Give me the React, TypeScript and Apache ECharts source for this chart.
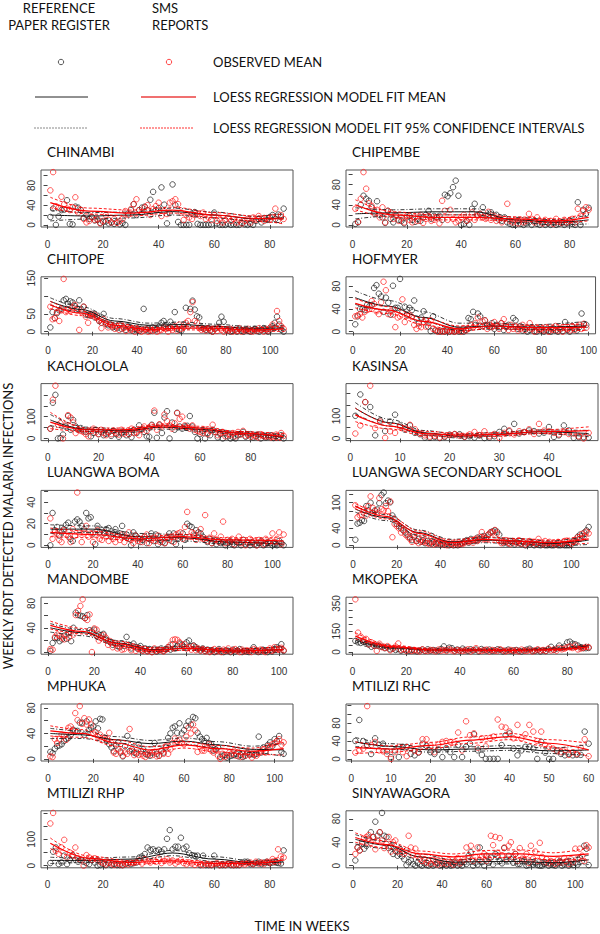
import React, { useEffect, useRef } from "react";
import * as echarts from "echarts";

// ---------------- DATA ----------------
const panelNames = [
  "CHINAMBI", "CHIPEMBE", "CHITOPE", "HOFMYER", "KACHOLOLA", "KASINSA", "LUANGWA BOMA",
  "LUANGWA SECONDARY SCHOOL", "MANDOMBE", "MKOPEKA", "MPHUKA", "MTILIZI RHC", "MTILIZI RHP", "SINYAWAGORA",
];

// weekly values, week 1..N (black = reference paper register, red = SMS reports)
const chinambiPaper = [16,33,0,17,30,31,50,2,1,37, 35,30,14,20,12,16,9,10,4,6, 7,3,5,2,6,1,4,0,23,30, 42,20,30,35,37,30,51,67,30,34, 76,41,3,24,82,40,6,0,0,0, 0,23,26,2,0,0,0,0,1,25, 3,0,0,0,2,0,1,0,0,4, 1,0,2,0,8,12,5,14,10,16, 20,12,21,16,33];
const chinambiSms = [70,107,38,35,57,42,33,30,36,56, 25,30,12,5,8,15,10,12,3,8, 20,10,5,12,4,8,12,28,20,32, 42,52,30,25,36,40,20,32,38,45, 18,28,22,45,48,52,42,25,10,20, 15,12,20,22,18,25,12,15,10,20, 8,12,5,10,15,8,12,5,10,3, 8,12,5,15,10,18,12,8,14,10, 16,33,10,20,12];
const chinambiKnots = [1, 15, 30, 45, 60, 75, 85];
const chinambiPaperFit = [20, 18, 20, 27, 20, 12, 14];
const chinambiPaperLo = [8, 12, 14, 20, 14, 7, 4];
const chinambiPaperHi = [30, 25, 26, 34, 26, 17, 24];
const chinambiSmsFit = [45, 28, 24, 30, 20, 13, 12];
const chinambiSmsLo = [35, 22, 18, 24, 15, 8, 2];
const chinambiSmsHi = [56, 34, 30, 36, 25, 18, 22];

const chipembePaper = [2,5,40,58,52,48,35,25,47,20, 15,4,28,12,5,18,10,8,3,15, 18,10,6,12,8,15,20,28,12,18, 15,18,10,60,57,63,75,88,58,0, 2,8,0,32,42,20,22,35,18,20, 25,15,20,10,8,15,5,2,0,0, 8,2,0,3,5,0,8,2,0,5, 0,3,0,5,0,2,5,0,3,8, 2,0,45,0,30,22,34];
const chipembeSms = [32,6,52,105,72,43,38,22,30,15, 35,5,28,25,12,20,8,15,5,18, 10,5,15,8,20,4,12,18,8,10, 15,3,48,28,10,30,12,5,8,15, 20,8,12,25,10,18,22,15,12,26, 10,18,8,15,5,12,42,8,5,10, 3,10,5,8,22,12,5,15,8,3, 10,5,8,2,12,6,4,10,5,8, 12,5,32,18,28,35,30];
const chipembeKnots = [1, 15, 30, 45, 60, 75, 87];
const chipembePaperFit = [22, 24, 26, 26, 10, 5, 10];
const chipembePaperLo = [12, 18, 20, 20, 5, 0, 2];
const chipembePaperHi = [34, 30, 32, 32, 15, 10, 20];
const chipembeSmsFit = [40, 20, 15, 15, 12, 8, 15];
const chipembeSmsLo = [30, 15, 10, 10, 8, 4, 8];
const chipembeSmsHi = [50, 26, 20, 20, 16, 12, 24];

const chitopePaper = [12,55,38,52,60,65,88,92,78,85, 82,72,65,88,62,70,48,47,45,50, 40,45,30,25,50,22,18,20,12,15, 10,20,8,12,5,15,10,3,8,5, 2,8,64,5,10,2,12,5,8,15, 25,30,15,10,28,18,55,8,5,3, 20,67,15,64,87,62,43,40,12,8, 5,10,3,0,8,12,25,42,28,5, 3,0,2,5,0,8,3,0,5,2, 0,4,8,2,0,5,10,3,0,6, 15,25,42,20,5,0];
const chitopeSms = [70,35,38,55,30,60,148,55,62,58, 68,75,60,5,55,70,42,25,50,45, 48,40,30,10,35,25,12,20,15,8, 15,5,20,10,2,12,5,8,0,10, 5,0,3,8,0,5,2,10,0,3, 5,12,8,0,10,5,15,3,20,8, 12,25,30,55,83,30,25,10,5,8, 3,10,5,0,8,2,12,5,0,6, 3,8,0,5,2,10,0,5,3,8, 2,0,6,3,10,5,0,8,3,12, 20,10,58,30,15,8];
const chitopeKnots = [1, 15, 30, 45, 60, 75, 90, 106];
const chitopePaperFit = [85, 62, 30, 18, 20, 15, 10, 10];
const chitopePaperLo = [75, 55, 25, 13, 15, 10, 6, 3];
const chitopePaperHi = [95, 70, 37, 24, 27, 21, 15, 17];
const chitopeSmsFit = [75, 52, 18, 6, 10, 10, 5, 8];
const chitopeSmsLo = [65, 45, 12, 2, 5, 5, 1, 1];
const chitopeSmsHi = [85, 58, 24, 11, 15, 15, 10, 16];

const hofmyerPaper = [13,27,40,40,38,47,45,47,77,82, 67,62,35,60,51,30,81,42,42,93, 35,44,30,42,38,55,23,15,25,36, 20,9,1,27,2,1,0,1,0,2, 0,1,0,2,0,1,0,3,24,22, 35,12,32,27,10,20,12,8,15,5, 12,8,15,3,10,12,8,24,20,5, 10,2,5,0,3,8,1,0,5,2, 0,3,1,0,6,2,0,4,1,17, 3,0,10,5,2,8,32,13,12];
const hofmyerSms = [27,29,31,25,35,38,40,54,49,36, 31,52,88,73,31,36,30,8,25,27, 57,17,28,30,26,12,5,10,8,17, 9,15,20,5,3,0,2,0,1,3, 0,2,0,1,3,0,6,2,5,12, 8,15,25,10,18,20,5,12,8,17, 10,5,15,22,8,3,12,5,10,2, 5,12,3,8,15,5,0,8,3,5, 2,8,0,5,3,10,2,6,0,8, 5,2,10,3,8,12,5,14,7];
const hofmyerKnots = [1, 15, 30, 45, 60, 75, 99];
const hofmyerPaperFit = [60, 45, 25, 8, 10, 8, 10];
const hofmyerPaperLo = [48, 38, 18, 2, 5, 4, 3];
const hofmyerPaperHi = [72, 55, 35, 15, 15, 12, 18];
const hofmyerSmsFit = [50, 38, 18, 5, 10, 7, 8];
const hofmyerSmsLo = [42, 32, 12, 1, 6, 3, 2];
const hofmyerSmsHi = [58, 44, 24, 10, 14, 11, 14];

const kachololaPaper = [45,164,200,0,2,18,55,103,40,85, 55,40,48,37,30,35,10,25,40,20, 30,15,22,28,12,35,20,8,25,30, 15,20,6,40,25,60,42,30,10,8, 63,118,3,63,25,96,125,0,73,40, 118,55,45,55,58,103,55,30,0,20, 35,0,25,15,40,30,5,20,0,25, 10,0,5,0,15,20,30,8,15,20, 5,10,18,0,12,5,8,15,2,10, 5,15,0];
const kachololaSms = [45,178,242,63,70,0,60,107,96,73, 25,40,35,30,20,10,35,45,28,20, 40,25,15,30,20,35,25,18,40,22, 30,20,45,25,30,15,40,55,35,50, 60,128,40,65,55,110,80,60,45,70, 116,90,100,60,50,45,60,40,35,30, 25,40,20,35,63,30,15,25,30,10, 20,15,25,10,30,18,35,12,20,8, 15,10,5,20,12,8,15,5,10,18, 8,25,12];
const kachololaKnots = [1, 15, 30, 45, 60, 75, 93];
const kachololaPaperFit = [85, 42, 35, 52, 42, 25, 5];
const kachololaPaperLo = [60, 32, 27, 43, 34, 18, -5];
const kachololaPaperHi = [110, 52, 43, 61, 50, 32, 15];
const kachololaSmsFit = [75, 40, 40, 58, 48, 25, 8];
const kachololaSmsLo = [45, 32, 33, 50, 40, 18, -15];
const kachololaSmsHi = [120, 48, 48, 66, 56, 32, 22];

const kasinsaPaper = [101,196,162,140,14,80,33,75,106,58, 39,58,25,19,4,3,7,2,7,17, 19,19,7,10,4,14,2,4,10,29, 43,32,65,22,29,36,33,22,26,51, 7,14,58,36,3,6,6,4];
const kasinsaSms = [22,58,162,235,46,75,3,32,25,51, 45,61,41,22,14,8,12,5,10,15, 20,12,8,18,29,15,32,10,20,3, 25,36,18,32,28,41,20,65,35,32, 25,18,29,20,22,10,0,25];
const kasinsaKnots = [1, 8, 15, 22, 30, 38, 48];
const kasinsaPaperFit = [135, 70, 25, 10, 20, 30, 22];
const kasinsaPaperLo = [110, 55, 15, 2, 12, 22, 8];
const kasinsaPaperHi = [160, 85, 35, 18, 28, 38, 36];
const kasinsaSmsFit = [105, 55, 22, 15, 18, 30, 35];
const kasinsaSmsLo = [75, 42, 12, 7, 10, 22, 18];
const kasinsaSmsHi = [135, 68, 32, 23, 26, 38, 52];

const bomaPaper = [0,30,14,17,9,12,15,19,21,6, 4,22,24,22,18,15,30,25,26,11, 1,18,12,14,11,15,16,8,11,15, 10,11,18,8,10,6,0,12,9,7, 3,5,8,2,6,11,4,10,1,5, 3,2,7,11,4,11,1,6,8,11, 5,20,18,17,9,14,12,11,8,5, 3,6,2,5,1,4,2,3,0,2, 4,1,0,3,2,0,5,1,2,0, 3,1,0,2,4,0,1,3,2,0, 1,0,4,2,0];
const bomaSms = [25,6,12,11,5,3,14,10,8,3, 15,9,49,11,3,11,18,8,11,3, 10,14,6,5,12,8,4,10,6,3, 8,5,10,3,7,12,5,2,9,4, 6,3,8,10,2,5,7,4,9,3, 6,2,8,5,8,3,10,11,12,6, 17,31,8,12,11,5,9,15,6,28, 4,7,2,11,5,3,8,22,2,5, 3,6,1,4,8,2,5,0,3,6, 2,4,0,5,3,1,6,2,4,11, 3,6,12,1,10];
const bomaKnots = [1, 20, 40, 60, 80, 105];
const bomaPaperFit = [15, 15, 8, 7, 3, 1];
const bomaPaperLo = [11, 12, 5, 4, 1, -1];
const bomaPaperHi = [19, 18, 11, 10, 5, 3];
const bomaSmsFit = [12, 10, 6, 8, 5, 4];
const bomaSmsLo = [8, 7, 4, 6, 3, 1];
const bomaSmsHi = [16, 13, 8, 10, 7, 7];

const secondaryPaper = [13,51,53,59,57,92,82,100,75,82, 84,99,118,124,99,105,101,70,62,50, 45,40,35,30,25,18,12,20,10,15, 8,12,5,10,6,4,8,3,6,2, 4,1,3,0,2,0,1,0,2,5, 8,12,6,15,10,12,18,15,20,22, 18,25,30,33,35,32,25,10,5,8, 4,10,6,2,8,5,3,7,0,4, 2,5,0,3,1,0,2,0,0,1, 0,0,2,0,0,1,0,0,0,2, 10,8,20,25,22,30,35,43];
const secondarySms = [94,66,71,71,84,70,92,115,88,80, 75,111,85,82,92,80,103,19,50,45, 40,30,35,25,20,15,8,25,10,5, 12,8,10,5,3,8,2,6,4,10, 2,5,0,8,3,1,6,2,4,3, 5,10,8,12,6,15,10,20,31,18, 15,25,31,30,36,28,10,5,8,12, 6,3,10,8,5,12,4,8,2,6, 10,5,8,3,15,6,2,10,4,8, 3,6,2,8,5,3,10,11,6,4, 8,12,19,15,27,22,32,28];
const secondaryKnots = [1, 15, 30, 45, 60, 75, 90, 108];
const secondaryPaperFit = [85, 65, 30, 8, 12, 10, 4, 12];
const secondaryPaperLo = [78, 58, 24, 2, 6, 4, -2, 2];
const secondaryPaperHi = [92, 72, 36, 14, 18, 16, 10, 22];
const secondarySmsFit = [92, 68, 28, 6, 14, 10, 6, 15];
const secondarySmsLo = [86, 62, 22, 0, 8, 4, 0, 5];
const secondarySmsHi = [98, 74, 34, 12, 20, 16, 12, 25];

const mandombePaper = [2,15,23,23,18,21,27,22,32,18, 40,65,61,60,59,56,61,36,34,37, 27,29,28,30,21,19,16,12,15,10, 8,14,10,25,12,6,14,8,5,10, 3,6,2,5,0,4,1,3,6,2, 5,8,4,13,6,10,14,12,8,16, 19,10,11,8,5,3,6,2,4,1, 3,0,2,5,1,0,3,2,0,4, 1,3,5,0,2,1,0,3,8,2, 0,1,4,2,0,3,1,5,8,6, 13,2];
const mandombeSms = [5,4,25,29,27,24,21,28,24,32, 29,61,68,76,87,56,53,62,0,39, 37,19,23,28,24,12,18,8,14,6, 10,4,5,12,8,3,9,2,6,4, 2,5,1,3,0,6,2,4,3,1, 4,8,12,20,21,20,16,10,13,6, 8,4,10,3,6,2,5,1,3,0, 2,5,1,3,0,4,2,6,1,3, 5,2,0,4,1,3,2,0,5,3, 1,4,2,0,3,6,2,8,5,4, 7,3];
const mandombeKnots = [1, 15, 30, 45, 60, 80, 102];
const mandombePaperFit = [40, 32, 15, 4, 6, 2, 4];
const mandombePaperLo = [33, 27, 11, 1, 3, 0, -1];
const mandombePaperHi = [47, 37, 19, 8, 9, 5, 9];
const mandombeSmsFit = [44, 34, 14, 3, 6, 2, 4];
const mandombeSmsLo = [38, 30, 10, 0, 3, 0, 0];
const mandombeSmsHi = [51, 39, 18, 7, 9, 5, 9];

const mkopekaPaper = [80,70,66,75,60,55,38,45,47,42, 38,28,35,20,25,15,22,10,18,12, 8,15,10,5,12,18,8,20,10,15, 12,8,22,41,15,32,28,10,18,12, 25,15,8,20,12,18,5,22,15,10, 18,8,12,20,15,5,10,18,8,12, 15,10,5,12,18,24,10,8,15,5, 12,8,20,38,15,25,47,30,40,70, 75,60,56,47,35,28,28,30];
const mkopekaSms = [380,140,112,85,95,56,70,47,9,60, 35,30,43,13,25,40,62,15,22,10, 18,8,15,12,5,20,10,8,15,12, 5,18,10,15,8,20,12,5,15,10, 8,12,20,5,15,28,10,8,12,18, 5,15,10,8,20,12,5,10,15,8, 12,5,18,10,8,15,5,12,20,10, 15,8,25,12,18,10,30,20,25,35, 40,30,47,19,25,30,38,35];
const mkopekaKnots = [1, 15, 30, 45, 60, 75, 88];
const mkopekaPaperFit = [85, 30, 15, 15, 13, 22, 45];
const mkopekaPaperLo = [72, 24, 10, 10, 8, 16, 32];
const mkopekaPaperHi = [100, 36, 20, 20, 18, 28, 58];
const mkopekaSmsFit = [115, 40, 15, 14, 12, 18, 38];
const mkopekaSmsLo = [95, 32, 9, 8, 6, 12, 25];
const mkopekaSmsHi = [140, 48, 21, 20, 18, 24, 51];

const mphukaPaper = [11,9,16,20,21,23,28,31,33,38, 46,44,44,57,57,38,59,45,49,51, 59,48,63,62,33,28,23,18,12,21, 26,10,4,20,36,12,15,10,8,23, 12,15,8,6,5,10,25,8,5,13, 10,18,33,40,49,51,41,56,40,45, 52,59,54,66,64,41,35,31,28,33, 25,23,13,15,18,3,5,6,2,4, 5,6,8,4,6,3,5,9,7,8, 6,8,35,10,18,12,22,26,20,31, 28,36,11,8];
const mphukaSms = [4,3,31,25,31,38,37,30,49,51, 45,72,61,83,55,64,54,62,54,40, 42,35,38,30,33,32,41,25,10,8, 15,12,5,10,8,47,12,6,10,6, 8,5,3,8,10,6,11,4,5,12, 8,20,8,15,25,32,28,30,25,23, 35,49,40,54,45,11,20,13,13,18, 23,13,10,14,5,0,8,3,6,10, 8,13,5,11,3,8,5,11,6,2, 8,5,9,12,15,10,20,18,23,25, 28,31,22,26];
const mphukaKnots = [1, 15, 30, 45, 60, 75, 90, 104];
const mphukaPaperFit = [40, 38, 30, 24, 28, 22, 15, 14];
const mphukaPaperLo = [32, 32, 25, 19, 23, 17, 10, 4];
const mphukaPaperHi = [48, 44, 35, 29, 33, 27, 20, 24];
const mphukaSmsFit = [44, 40, 25, 14, 22, 16, 12, 16];
const mphukaSmsLo = [36, 34, 20, 9, 17, 11, 7, 6];
const mphukaSmsHi = [52, 46, 30, 19, 27, 21, 17, 26];

const rhcPaper = [40,87,40,31,11,46,32,34,17,4, 19,4,27,27,11,8,14,34,29,15, 11,21,4,24,15,4,31,4,27,34, 55,19,9,0,0,0,0,31,53,57, 23,8,19,27,27,23,0,38,14,0, 0,19,11,8,11,8,9,9,61,34];
const rhcSms = [14,19,23,118,31,38,19,17,11,0, 15,27,15,6,24,18,15,44,44,30, 15,32,38,40,38,37,59,19,84,53, 57,25,46,28,46,50,88,72,70,61, 46,76,46,55,76,61,40,61,31,27, 23,17,15,20,9,15,11,25,44,6];
const rhcKnots = [1, 10, 20, 30, 40, 50, 60];
const rhcPaperFit = [38, 28, 20, 22, 24, 18, 20];
const rhcPaperLo = [28, 22, 15, 17, 19, 12, 8];
const rhcPaperHi = [48, 34, 25, 27, 30, 24, 32];
const rhcSmsFit = [25, 22, 30, 42, 50, 35, 20];
const rhcSmsLo = [12, 15, 23, 35, 43, 27, 5];
const rhcSmsHi = [38, 29, 37, 49, 57, 43, 35];

const rhpPaper = [10,53,69,6,12,38,6,23,40,22, 15,22,15,10,6,22,12,0,2,6, 2,10,2,6,2,2,2,6,10,6, 10,12,31,35,44,69,60,62,56,60, 53,62,102,135,62,72,72,106,65,72, 47,40,38,38,2,38,2,2,2,38, 6,2,2,2,6,2,2,2,2,12, 15,15,6,6,10,15,6,12,15,10, 12,15,10,8,58];
const rhpSms = [160,200,56,45,69,98,31,50,38,69, 28,22,0,40,31,22,28,22,15,10, 5,12,8,3,10,6,2,8,5,12, 10,15,20,8,25,18,12,20,15,28, 10,18,25,12,20,8,15,22,10,5, 12,8,3,10,6,2,8,5,3,6, 10,2,6,3,8,5,2,6,4,8, 5,10,12,6,15,8,12,6,15,10, 25,18,62,35,31];
const rhpKnots = [1, 15, 30, 45, 60, 75, 85];
const rhpPaperFit = [20, 20, 25, 48, 25, 10, 14];
const rhpPaperLo = [8, 12, 17, 38, 16, 3, 2];
const rhpPaperHi = [32, 28, 33, 58, 34, 17, 26];
const rhpSmsFit = [85, 28, 12, 18, 8, 10, 22];
const rhpSmsLo = [65, 20, 5, 11, 2, 4, 8];
const rhpSmsHi = [105, 36, 19, 25, 14, 16, 36];

const sinyaPaper = [9,31,26,37,29,34,46,57,49,75, 51,57,90,51,49,30,33,20,25,17, 20,16,11,1,6,9,3,0,5,2, 0,4,1,0,3,0,2,5,0,1, 3,0,2,0,1,4,0,2,0,6, 3,17,23,0,5,2,31,6,0,17, 5,14,2,20,17,8,4,30,10,17, 11,5,20,3,3,8,9,0,1,6, 2,4,1,0,0,3,5,0,2,1, 0,4,8,0,2,6,0,3,1,5, 2,13,8,34,29,1];
const sinyaSms = [20,31,26,40,46,49,52,39,49,28, 43,57,43,30,37,49,24,40,43,24, 29,23,20,26,51,31,18,29,17,12, 8,11,5,8,3,10,6,2,12,4, 7,3,9,5,2,8,13,4,6,10, 31,12,34,8,15,31,10,16,20,8, 12,51,35,49,22,47,18,31,12,34, 40,15,20,8,30,12,11,20,5,34, 12,24,8,39,15,6,11,4,8,6, 3,10,6,5,13,8,3,11,6,29, 12,29,17,8,35,31];
const sinyaKnots = [1, 15, 30, 45, 60, 75, 90, 106];
const sinyaPaperFit = [45, 35, 15, 6, 7, 7, 5, 10];
const sinyaPaperLo = [37, 29, 10, 2, 3, 3, 1, 2];
const sinyaPaperHi = [53, 41, 20, 10, 11, 11, 9, 18];
const sinyaSmsFit = [48, 36, 20, 15, 20, 20, 16, 20];
const sinyaSmsLo = [40, 30, 15, 10, 14, 14, 10, 10];
const sinyaSmsHi = [56, 42, 25, 20, 26, 27, 22, 30];

// axis tick values and printed tick labels
const xTicks80 = [0, 20, 40, 60, 80];
const xTicks100 = [0, 20, 40, 60, 80, 100];
const xTicks40 = [0, 10, 20, 30, 40];
const xTicks60 = [0, 10, 20, 30, 40, 50, 60];
const yTicksList = [
  [0, 20, 40, 60, 80, 100], [0, 20, 40, 60, 80, 100], [0, 50, 100, 150], [0, 20, 40, 60, 80],
  [0, 50, 100, 150, 200], [0, 50, 100, 150, 200], [0, 10, 20, 30, 40, 50], [0, 20, 40, 60, 80, 100, 120],
  [0, 20, 40, 60, 80], [0, 50, 100, 150, 200, 250, 300, 350], [0, 20, 40, 60, 80], [0, 20, 40, 60, 80, 100, 120],
  [0, 50, 100, 150, 200], [0, 20, 40, 60, 80],
];
const yLabelsList = [
  [0, 40, 80], [0, 40, 80], [0, 50, 150], [0, 40, 80],
  [0, 100], [0, 100], [0, 20, 40], [0, 40, 100],
  [0, 40, 80], [0, 150, 350], [0, 40, 80], [0, 40, 80],
  [0, 100], [0, 40, 80],
];

const legendHeaders = ["REFERENCE", "PAPER REGISTER", "SMS", "REPORTS"];
const legendLabels = ["OBSERVED MEAN", "LOESS REGRESSION MODEL FIT MEAN", "LOESS REGRESSION MODEL FIT 95% CONFIDENCE INTERVALS"];
const yTitle = "WEEKLY RDT DETECTED MALARIA INFECTIONS";
const xTitle = "TIME IN WEEKS";

// ---------------- PANEL TABLE ----------------
const panels = [
  { paper: chinambiPaper, sms: chinambiSms, knots: chinambiKnots, pf: chinambiPaperFit, pl: chinambiPaperLo, ph: chinambiPaperHi, sf: chinambiSmsFit, sl: chinambiSmsLo, sh: chinambiSmsHi, xt: xTicks80 },
  { paper: chipembePaper, sms: chipembeSms, knots: chipembeKnots, pf: chipembePaperFit, pl: chipembePaperLo, ph: chipembePaperHi, sf: chipembeSmsFit, sl: chipembeSmsLo, sh: chipembeSmsHi, xt: xTicks80 },
  { paper: chitopePaper, sms: chitopeSms, knots: chitopeKnots, pf: chitopePaperFit, pl: chitopePaperLo, ph: chitopePaperHi, sf: chitopeSmsFit, sl: chitopeSmsLo, sh: chitopeSmsHi, xt: xTicks100 },
  { paper: hofmyerPaper, sms: hofmyerSms, knots: hofmyerKnots, pf: hofmyerPaperFit, pl: hofmyerPaperLo, ph: hofmyerPaperHi, sf: hofmyerSmsFit, sl: hofmyerSmsLo, sh: hofmyerSmsHi, xt: xTicks100 },
  { paper: kachololaPaper, sms: kachololaSms, knots: kachololaKnots, pf: kachololaPaperFit, pl: kachololaPaperLo, ph: kachololaPaperHi, sf: kachololaSmsFit, sl: kachololaSmsLo, sh: kachololaSmsHi, xt: xTicks80 },
  { paper: kasinsaPaper, sms: kasinsaSms, knots: kasinsaKnots, pf: kasinsaPaperFit, pl: kasinsaPaperLo, ph: kasinsaPaperHi, sf: kasinsaSmsFit, sl: kasinsaSmsLo, sh: kasinsaSmsHi, xt: xTicks40 },
  { paper: bomaPaper, sms: bomaSms, knots: bomaKnots, pf: bomaPaperFit, pl: bomaPaperLo, ph: bomaPaperHi, sf: bomaSmsFit, sl: bomaSmsLo, sh: bomaSmsHi, xt: xTicks100 },
  { paper: secondaryPaper, sms: secondarySms, knots: secondaryKnots, pf: secondaryPaperFit, pl: secondaryPaperLo, ph: secondaryPaperHi, sf: secondarySmsFit, sl: secondarySmsLo, sh: secondarySmsHi, xt: xTicks100 },
  { paper: mandombePaper, sms: mandombeSms, knots: mandombeKnots, pf: mandombePaperFit, pl: mandombePaperLo, ph: mandombePaperHi, sf: mandombeSmsFit, sl: mandombeSmsLo, sh: mandombeSmsHi, xt: xTicks100 },
  { paper: mkopekaPaper, sms: mkopekaSms, knots: mkopekaKnots, pf: mkopekaPaperFit, pl: mkopekaPaperLo, ph: mkopekaPaperHi, sf: mkopekaSmsFit, sl: mkopekaSmsLo, sh: mkopekaSmsHi, xt: xTicks80 },
  { paper: mphukaPaper, sms: mphukaSms, knots: mphukaKnots, pf: mphukaPaperFit, pl: mphukaPaperLo, ph: mphukaPaperHi, sf: mphukaSmsFit, sl: mphukaSmsLo, sh: mphukaSmsHi, xt: xTicks100 },
  { paper: rhcPaper, sms: rhcSms, knots: rhcKnots, pf: rhcPaperFit, pl: rhcPaperLo, ph: rhcPaperHi, sf: rhcSmsFit, sl: rhcSmsLo, sh: rhcSmsHi, xt: xTicks60 },
  { paper: rhpPaper, sms: rhpSms, knots: rhpKnots, pf: rhpPaperFit, pl: rhpPaperLo, ph: rhpPaperHi, sf: rhpSmsFit, sl: rhpSmsLo, sh: rhpSmsHi, xt: xTicks80 },
  { paper: sinyaPaper, sms: sinyaSms, knots: sinyaKnots, pf: sinyaPaperFit, pl: sinyaPaperLo, ph: sinyaPaperHi, sf: sinyaSmsFit, sl: sinyaSmsLo, sh: sinyaSmsHi, xt: xTicks100 },
];

// ---------------- LAYOUT / STYLE ----------------
const FONT = "Lato, 'Open Sans', sans-serif";
const TICK_FONT = "'Liberation Sans', Arial, sans-serif";
const COL_LEFT = [41, 346];
const BOX_W = 252;
const BOX_H = 57;
const ROW0_BOTTOM = 227;
const ROW_STEP = 106.8;
const BLACK = "#1a1a1a";
const RED = "#ff1a1a";

function buildOption() {
  const grid: any[] = [];
  const xAxis: any[] = [];
  const yAxis: any[] = [];
  const series: any[] = [];
  const title: any[] = [];

  panels.forEach((p, i) => {
    const col = i % 2;
    const row = Math.floor(i / 2);
    const left = COL_LEFT[col];
    const bottom = ROW0_BOTTOM + row * ROW_STEP;
    const top = bottom - BOX_H;
    const n = p.paper.length;
    const xPad = 0.04 * (n - 1);
    const allY = p.paper.concat(p.sms);
    const yMaxD = Math.max(...allY);
    const yMinD = Math.min(0, ...allY);
    const yPad = 0.04 * (yMaxD - yMinD);

    grid.push({ left, top, width: BOX_W, height: BOX_H, show: true, borderColor: "#555", borderWidth: 1, backgroundColor: "transparent", containLabel: false });
    xAxis.push({
      gridIndex: i, type: "value", min: 1 - xPad, max: n + xPad,
      axisLine: { show: false },
      axisTick: { show: true, inside: false, length: 4, customValues: p.xt, lineStyle: { color: "#444", width: 1 } },
      axisLabel: { customValues: p.xt, margin: 12, fontFamily: TICK_FONT, fontSize: 10, color: "#333" },
      splitLine: { show: false },
    });
    yAxis.push({
      gridIndex: i, type: "value", min: yMinD - yPad, max: yMaxD + yPad,
      axisLine: { show: false },
      axisTick: { show: true, inside: false, length: 4, customValues: yTicksList[i], lineStyle: { color: "#444", width: 1 } },
      axisLabel: { customValues: yLabelsList[i], rotate: 90, margin: 5, fontFamily: TICK_FONT, fontSize: 10, color: "#333" },
      splitLine: { show: false },
    });
    title.push({
      text: panelNames[i], left: left + 6, top: top - 25, padding: 0,
      textStyle: { fontFamily: FONT, fontSize: 13.5, fontWeight: "normal", color: "#111" },
    });

    const scatter = (vals: number[], color: string) => ({
      type: "scatter", xAxisIndex: i, yAxisIndex: i, silent: true, clip: true,
      data: vals.map((v, k) => [k + 1, v]),
      symbol: "circle", symbolSize: 5.5,
      itemStyle: { color: "rgba(0,0,0,0)", borderColor: color, borderWidth: 0.9 },
      z: 2,
    });
    const line = (vals: number[], color: string, type: any, width: number) => ({
      type: "line", xAxisIndex: i, yAxisIndex: i, silent: true, clip: true,
      data: p.knots.map((x, k) => [x, vals[k]]),
      smooth: 0.35, smoothMonotone: "x", symbol: "none", showSymbol: false,
      lineStyle: { color, type, width }, z: 3,
    });
    series.push(scatter(p.paper, BLACK));
    series.push(scatter(p.sms, RED));
    series.push(line(p.pf, "#111", "solid", 1));
    series.push(line(p.pl, "#222", [4, 2, 1, 2], 0.9));
    series.push(line(p.ph, "#222", [4, 2, 1, 2], 0.9));
    series.push(line(p.sf, "#ff0000", "solid", 1.2));
    series.push(line(p.sl, "#ff0000", [3, 2], 0.9));
    series.push(line(p.sh, "#ff0000", [3, 2], 0.9));
  });

  const txt = (text: string, x: number, y: number, align: string, size = 13, rotation = 0) => ({
    type: "text", x, y, rotation,
    style: { text, align, verticalAlign: "middle", font: `${size}px ${FONT}`, fill: "#111" },
  });

  const graphic = [
    txt(legendHeaders[0], 59, 8, "center"),
    txt(legendHeaders[1], 59, 25, "center"),
    txt(legendHeaders[2], 152, 8, "left"),
    txt(legendHeaders[3], 152, 25, "left"),
    { type: "circle", shape: { cx: 61, cy: 62, r: 2.7 }, style: { fill: "none", stroke: "#444", lineWidth: 0.9 } },
    { type: "circle", shape: { cx: 169, cy: 62, r: 2.7 }, style: { fill: "none", stroke: "#ff3030", lineWidth: 0.9 } },
    txt(legendLabels[0], 213, 62, "left"),
    { type: "line", shape: { x1: 35, y1: 97, x2: 88, y2: 97 }, style: { stroke: "#222", lineWidth: 1 } },
    { type: "line", shape: { x1: 141, y1: 97, x2: 196, y2: 97 }, style: { stroke: "#f07070", lineWidth: 2 } },
    txt(legendLabels[1], 213, 97, "left"),
    { type: "line", shape: { x1: 34, y1: 128, x2: 87, y2: 128 }, style: { stroke: "#888", lineWidth: 1, lineDash: [2, 1] } },
    { type: "line", shape: { x1: 140, y1: 128, x2: 194, y2: 128 }, style: { stroke: "#ff3030", lineWidth: 1, lineDash: [2, 1] } },
    txt(legendLabels[2], 213, 128, "left", 12.8),
    txt(yTitle, 8, 526, "center", 13, Math.PI / 2),
    txt(xTitle, 302, 926, "center", 13),
  ];

  return { animation: false, backgroundColor: "#fff", title, grid, xAxis, yAxis, series, graphic };
}

export default function App() {
  const ref = useRef<HTMLDivElement>(null);
  useEffect(() => {
    document.body.style.margin = "0";
    const chart = echarts.init(ref.current!, null, { renderer: "svg" });
    chart.setOption(buildOption() as any);
    return () => chart.dispose();
  }, []);
  return <div ref={ref} style={{ position: "absolute", left: 0, top: 0, width: 600, height: 934, background: "#fff" }} />;
}
